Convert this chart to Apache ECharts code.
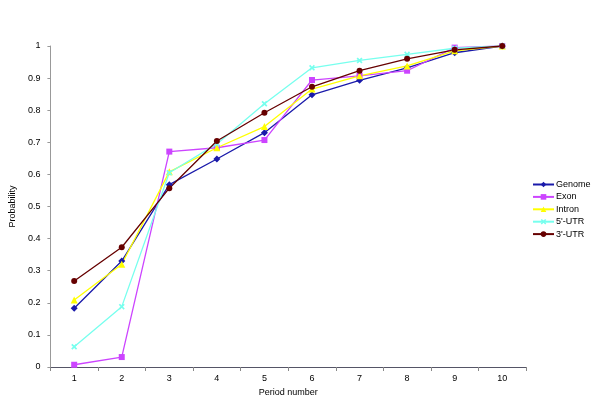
<!DOCTYPE html>
<html><head><meta charset="utf-8">
<script src="https://cdn.jsdelivr.net/npm/echarts@6/dist/echarts.min.js"></script>
<style>html,body{margin:0;padding:0;background:#fff}#c{width:600px;height:411px}</style>
</head><body><div id="c"></div>
<script>
var categories = ['1','2','3','4','5','6','7','8','9','10'];
var genome = [0.183, 0.330, 0.568, 0.648, 0.730, 0.848, 0.893, 0.932, 0.979, 1.0];
var exon   = [0.007, 0.031, 0.671, 0.683, 0.707, 0.894, 0.907, 0.923, 0.995, 1.0];
var intron = [0.209, 0.320, 0.608, 0.683, 0.749, 0.866, 0.907, 0.938, 0.985, 1.0];
var utr5   = [0.063, 0.188, 0.605, 0.695, 0.820, 0.932, 0.955, 0.974, 0.993, 1.0];
var utr3   = [0.268, 0.373, 0.557, 0.704, 0.792, 0.873, 0.923, 0.960, 0.988, 1.0];
var yTicks = ['0','0.1','0.2','0.3','0.4','0.5','0.6','0.7','0.8','0.9','1'];

var font = 'Liberation Sans, Arial, Helvetica, sans-serif';
var crossPath = 'path://M0,2 L2,0 L5,3 L8,0 L10,2 L7,5 L10,8 L8,10 L5,7 L2,10 L0,8 L3,5 Z';

function mk(name, data, color, symbol, size) {
  return {
    name: name, type: 'line', data: data,
    symbol: symbol, symbolSize: size, showAllSymbol: true,
    lineStyle: {color: color, width: 1.3},
    itemStyle: {color: color},
    animation: false
  };
}

var chart = echarts.init(document.getElementById('c'));
chart.setOption({
  backgroundColor: '#fff',
  animation: false,
  grid: {left: 49, right: 74, top: 46, bottom: 44},
  legend: {
    orient: 'vertical', left: 532, top: 180, padding: 0,
    itemWidth: 21, itemHeight: 7, itemGap: 3.4,
    textStyle: {fontFamily: font, fontSize: 9, color: '#000', padding: [0, 0, 0, -3]},
    data: ['Genome','Exon','Intron',"5'-UTR","3'-UTR"]
  },
  xAxis: {
    type: 'category', data: categories, boundaryGap: true,
    name: 'Period number', nameLocation: 'middle', nameGap: 20,
    nameTextStyle: {fontFamily: font, fontSize: 9, color: '#000'},
    axisLine: {lineStyle: {color: '#556', width: 1}},
    axisTick: {show: true, lineStyle: {color: '#888'}, length: 4},
    axisLabel: {fontFamily: font, fontSize: 9, color: '#000', margin: 7},
    splitLine: {show: false}
  },
  yAxis: {
    type: 'value', min: 0, max: 1, interval: 0.1,
    name: 'Probability', nameLocation: 'middle', nameGap: 28, nameRotate: 90,
    nameTextStyle: {fontFamily: font, fontSize: 9, color: '#000'},
    axisLine: {show: true, lineStyle: {color: '#999', width: 1}},
    axisTick: {show: true, lineStyle: {color: '#999'}, length: 3},
    axisLabel: {fontFamily: font, fontSize: 9, color: '#000', margin: 10,
      formatter: function (v) { return yTicks[Math.round(v * 10)]; }},
    splitLine: {show: false}
  },
  series: [
    mk('Genome', genome, '#1a1aaa', 'diamond', 7),
    mk('Exon', exon, '#cc44ff', 'rect', 6),
    mk('Intron', intron, '#ffff00', 'triangle', 7),
    mk("5'-UTR", utr5, '#77ffee', crossPath, 6),
    mk("3'-UTR", utr3, '#660000', 'circle', 6)
  ]
});
</script>
</body></html>
